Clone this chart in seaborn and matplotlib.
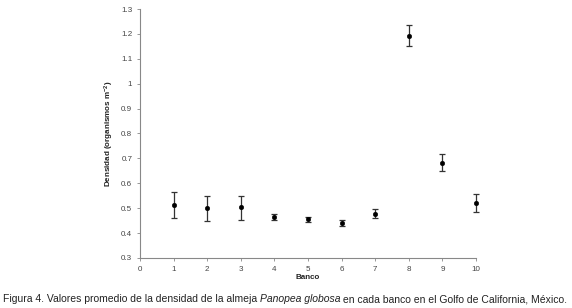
import matplotlib
matplotlib.use("Agg")
import matplotlib.pyplot as plt
import seaborn as sns
import pandas as pd

banco = [1, 2, 3, 4, 5, 6, 7, 8, 9, 10]
densidad = [0.514, 0.500, 0.503, 0.465, 0.455, 0.441, 0.478, 1.192, 0.682, 0.520]
err_lo = [0.054, 0.050, 0.049, 0.011, 0.011, 0.011, 0.016, 0.040, 0.032, 0.037]
err_hi = [0.050, 0.047, 0.047, 0.013, 0.010, 0.012, 0.019, 0.043, 0.036, 0.038]

df = pd.DataFrame({"Banco": banco, "Densidad": densidad})

sns.set_style("ticks")
plt.rcParams['font.family'] = ['Liberation Sans', 'DejaVu Sans']
plt.rcParams['mathtext.default'] = 'regular'

fig = plt.figure(figsize=(5.72, 3.08), dpi=100)
ax = fig.add_axes([140 / 572, 1 - 258 / 308, 336 / 572, 249 / 308])

eb = ax.errorbar(df["Banco"], df["Densidad"], yerr=[err_lo, err_hi], fmt="none",
                 ecolor="#333333", elinewidth=0.9, capsize=2.5, capthick=0.9, zorder=2)
for artist in eb.lines[1] + eb.lines[2]:
    artist.set_clip_on(False)
sns.scatterplot(data=df, x="Banco", y="Densidad", color="black", s=11,
                edgecolor="black", linewidth=0.3, ax=ax, zorder=3, clip_on=False)

ax.set_xlim(0, 10)
ax.set_ylim(0.3, 1.3)
ax.set_xticks(range(0, 11))
ax.set_yticks([0.3, 0.4, 0.5, 0.6, 0.7, 0.8, 0.9, 1.0, 1.1, 1.2, 1.3])
ax.set_yticklabels(["0.3", "0.4", "0.5", "0.6", "0.7", "0.8", "0.9", "1", "1.1", "1.2", "1.3"])
ax.tick_params(labelsize=5.8, length=2, width=0.6, colors="#888888", labelcolor="#444444")
for s in ["top", "right"]:
    ax.spines[s].set_visible(False)
for s in ["left", "bottom"]:
    ax.spines[s].set_color("#888888")
    ax.spines[s].set_linewidth(0.8)

ax.set_xlabel("Banco", fontsize=5.8, fontweight="bold", color="#222222", labelpad=1)
ax.set_ylabel("Densidad (organismos m$^{-2}$)", fontsize=5.8, fontweight="bold",
              color="#222222", labelpad=4)

# caption with italic species name
cap_font = ['Liberation Sans Narrow', 'Liberation Sans', 'DejaVu Sans']
parts = [("Figura 4. Valores promedio de la densidad de la almeja ", "normal"),
         ("Panopea globosa", "italic"),
         (" en cada banco en el Golfo de California, México.", "normal")]
fig.canvas.draw()
renderer = fig.canvas.get_renderer()
x = 3 / 572
for txt, style in parts:
    t = fig.text(x, 1 - 302 / 308, txt, fontsize=7.5, family=cap_font, style=style,
                 color="#222222", va="baseline", ha="left")
    bb = t.get_window_extent(renderer=renderer)
    x = bb.x1 / 572

fig.savefig("out.png", dpi=100)
